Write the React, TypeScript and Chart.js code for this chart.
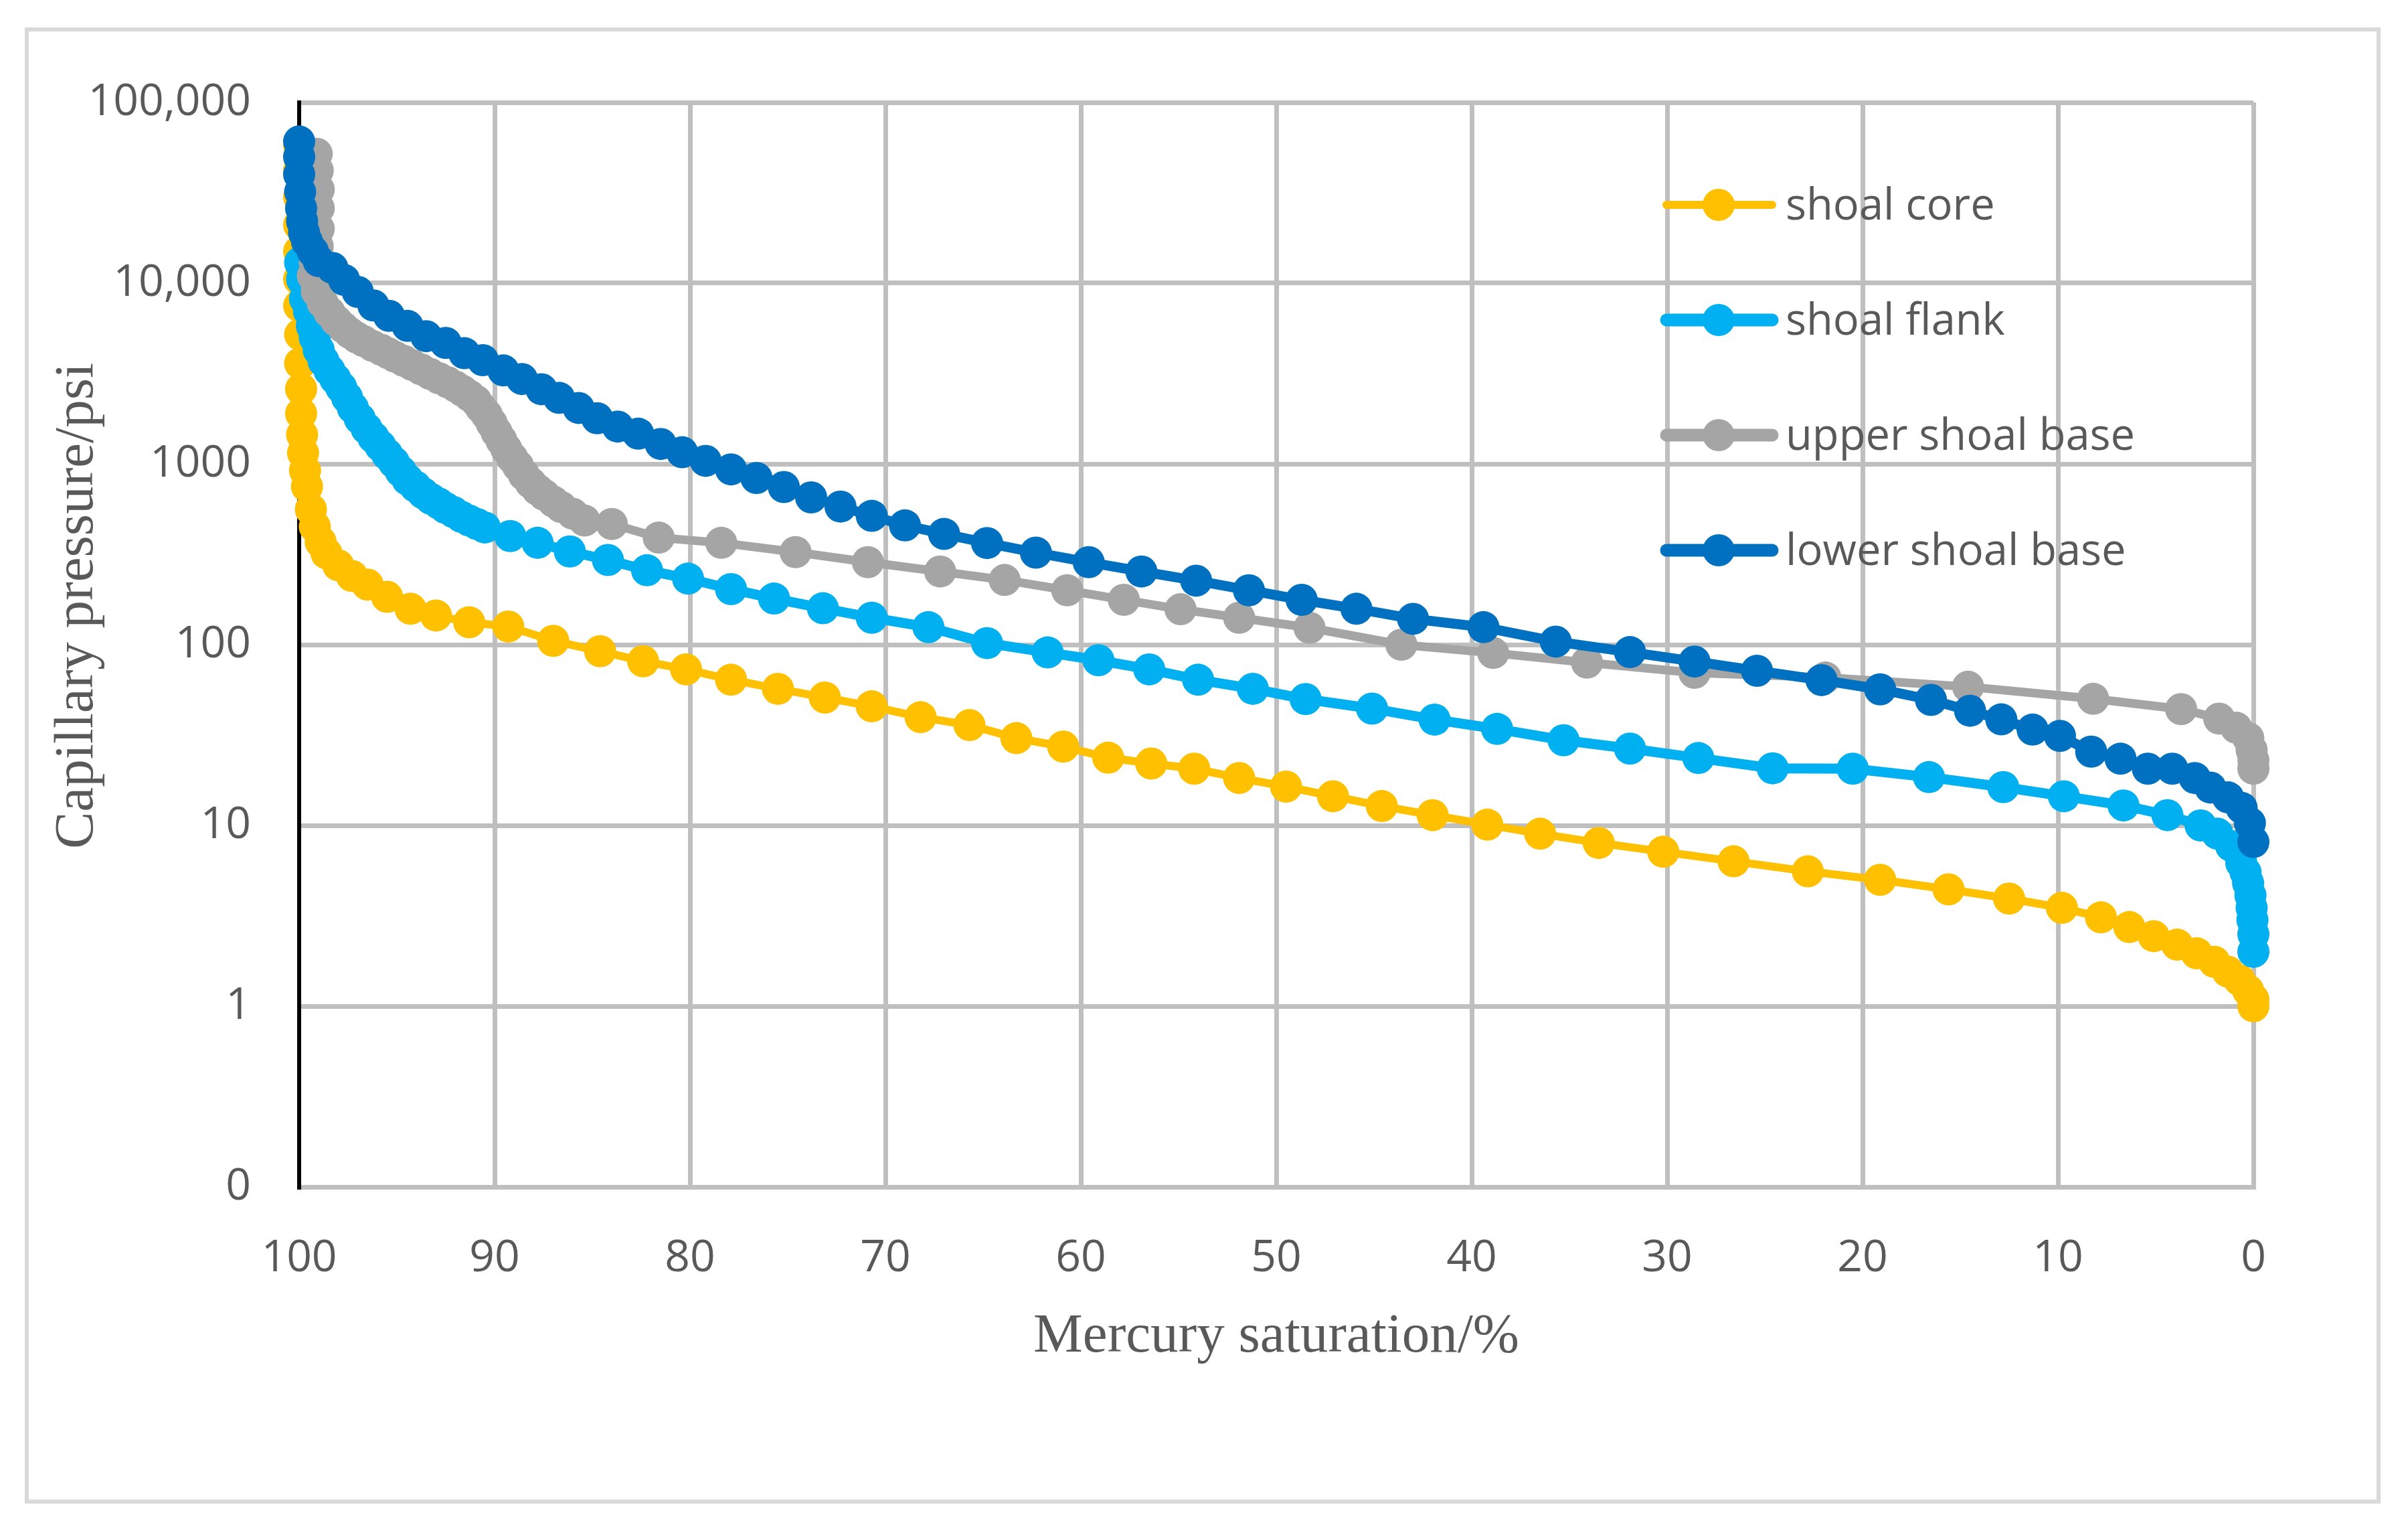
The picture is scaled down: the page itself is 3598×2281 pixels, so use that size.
import React, { useEffect, useRef } from 'react';
import Chart from 'chart.js/auto';

const seriesNames = ['shoal core', 'shoal flank', 'upper shoal base', 'lower shoal base'];
const seriesColors = ['#FFC000', '#00B0F0', '#A5A5A5', '#0070C0'];

// shoal core
const shoalCoreSat = [
    100, 100, 100, 100, 100, 100, 100, 99.95, 99.95, 99.9, 99.9, 99.85, 99.8, 99.7, 99.6, 99.4, 99.2, 98.9, 98.6,
    98.0, 97.3, 96.5, 95.5, 94.3, 93.0, 91.3, 89.3, 87.0, 84.6, 82.4, 80.2, 77.9, 75.5, 73.1, 70.7, 68.2, 65.7,
    63.3, 60.9, 58.6, 56.4, 54.2, 51.9, 49.5, 47.1, 44.6, 42.0, 39.2, 36.5, 33.5, 30.2, 26.6, 22.8, 19.1, 15.6,
    12.5, 9.8, 7.8, 6.35, 5.1, 3.9, 2.9, 2.0, 1.3, 0.7, 0.27, 0, 0,
];
const shoalCorePc = [
    58000, 42000, 30000, 21000, 15000, 10500, 7500, 5200, 3600, 2600, 1900, 1450, 1150, 920, 750, 560, 450, 370, 320,
    275, 240, 215, 184, 158, 145, 133, 126, 105, 92, 81, 73, 64, 57, 51, 45.6, 39.7, 35.9,
    30.4, 27.3, 23.7, 22.0, 20.6, 18.3, 16.4, 14.5, 12.8, 11.4, 10.1, 9.0, 8.0, 7.15, 6.33, 5.57, 5.0, 4.43,
    3.94, 3.5, 3.1, 2.74, 2.44, 2.19, 1.96, 1.76, 1.55, 1.39, 1.22, 1.09, 1.0,
];

// shoal flank
const shoalFlankSat = [
    99.95, 99.85, 99.7, 99.5, 99.35, 99.2, 99.0, 98.75, 98.45, 98.15, 97.85, 97.55, 97.25, 96.9, 96.55, 96.2, 95.85,
    95.5, 95.15, 94.8, 94.45, 94.05, 93.65, 93.25, 92.85, 92.5, 92.1, 91.7, 91.3, 90.9, 90.5, 89.2, 87.8, 86.15,
    84.2, 82.2, 80.1, 77.9, 75.7, 73.2, 70.7, 67.8, 64.8, 61.7, 59.1, 56.5, 54.0, 51.2, 48.5, 45.1, 41.9, 38.7,
    35.3, 31.9, 28.4, 24.6, 20.5, 16.6, 12.8, 9.7, 6.65, 4.4, 2.7, 1.84, 1.14, 0.62, 0.4, 0.27, 0.15, 0.09, 0.05,
    0, 0,
];
const shoalFlankPc = [
    13000, 10500, 8200, 7000, 5800, 5000, 4270, 3700, 3290, 2950, 2650, 2330, 2040, 1780, 1570, 1400, 1260,
    1130, 1020, 910, 818, 750, 688, 640, 604, 570, 541, 510, 486, 465, 445, 399, 366, 328,
    294, 258, 232, 203, 180, 159, 141, 125, 102, 90.6, 82, 73, 64, 57, 50, 44.3, 38.5, 34.2,
    29.6, 26.6, 23.6, 20.7, 20.6, 18.5, 16.3, 14.5, 12.9, 11.4, 10.0, 9.0, 7.7, 6.2, 5.5, 4.8, 4.1, 3.5, 3.0,
    2.5, 2.0,
];

// upper shoal base
const upperBaseSat = [
    99.1, 99.05, 99.0, 99.0, 99.0, 99.05, 99.2, 99.3, 99.1, 98.8, 98.45, 98.1, 97.75, 97.4, 97.05, 96.7, 96.25,
    95.8, 95.45, 95.1, 94.65, 94.2, 93.75, 93.3, 92.85, 92.4, 92.0, 91.65, 91.3, 90.95, 90.7, 90.4, 90.15, 89.9,
    89.65, 89.4, 89.1, 88.8, 88.5, 88.15, 87.8, 87.45, 87.0, 86.6, 86.0, 85.4, 84.0, 81.6, 78.4, 74.6, 70.9,
    67.2, 63.9, 60.7, 57.8, 54.9, 51.9, 48.3, 43.6, 38.9, 34.1, 28.6, 21.9, 14.6, 8.2, 3.7, 1.75, 0.88, 0.26,
    0.09, 0, 0,
];
const upperBasePc = [
    52000, 42000, 33000, 26000, 20000, 16000, 13000, 11000, 9000, 7800, 6900, 6200, 5700, 5300, 5000, 4780, 4500,
    4280, 4100, 3920, 3720, 3520, 3330, 3150, 2980, 2830, 2680, 2540, 2390, 2230, 2050, 1870, 1680, 1500,
    1350, 1210, 1080, 975, 870, 785, 720, 673, 620, 578, 530, 486, 465, 391, 366, 325, 286,
    254, 228, 200, 177, 157, 141, 124, 100, 90, 79.6, 69.9, 65.8, 58.5, 50.2, 44.0, 39.0, 34.7, 30.4,
    26.1, 22.9, 20.6,
];

// lower shoal base
const lowerBaseSat = [
    100, 100, 100, 99.95, 99.9, 99.85, 99.75, 99.6, 99.3, 99.0, 98.3, 97.7, 97.0, 96.2, 95.4, 94.45, 93.5, 92.5,
    91.55, 90.6, 89.55, 88.6, 87.6, 86.7, 85.7, 84.75, 83.7, 82.65, 81.5, 80.4, 79.2, 77.9, 76.6, 75.2, 73.8,
    72.3, 70.7, 69.0, 67.0, 64.8, 62.3, 59.6, 56.9, 54.1, 51.4, 48.7, 45.9, 43.0, 39.4, 35.7, 31.9, 28.6, 25.4,
    22.1, 19.1, 16.5, 14.5, 12.9, 11.3, 9.9, 8.3, 6.8, 5.4, 4.15, 3.0, 2.2, 1.3, 0.6, 0.18, 0,
];
const lowerBasePc = [
    60800, 50000, 40000, 32000, 26000, 22000, 19000, 17000, 15000, 13250, 12150, 10430, 8950, 7530, 6600, 5800, 5090, 4670,
    4100, 3750, 3290, 2950, 2590, 2320, 2040, 1790, 1610, 1470, 1290, 1160, 1040, 933, 836, 745, 653,
    581, 516, 457, 410, 365, 323, 286, 254, 226, 200, 177, 158, 139, 125, 104, 91, 80.7, 71.7,
    63.7, 56.6, 49.5, 43.1, 38.6, 33.9, 31.3, 25.6, 23.4, 20.6, 20.6, 18.3, 16.2, 14.3, 12.5, 10.3, 8.1,
];

const xTickValues = [0, 10, 20, 30, 40, 50, 60, 70, 80, 90, 100];
const yTickValues = [0.1, 1, 10, 100, 1000, 10000, 100000];
const yTickLabels = ['0', '1', '10', '100', '1000', '10,000', '100,000'];
const xTitle = 'Mercury saturation/%';
const yTitle = 'Capillary pressure/psi';

const seriesSat = [shoalCoreSat, shoalFlankSat, upperBaseSat, lowerBaseSat];
const seriesPc = [shoalCorePc, shoalFlankPc, upperBasePc, lowerBasePc];
const lineWidths = [12, 15, 13, 15];
const legendLineWidths = [12, 19, 19, 19];

const W = 3598;
const H = 2281;
const TEXT = '#595959';
const GRID = '#BFBFBF';

// y title + legend drawn on top of the plot
const overlayPlugin = {
    id: 'overlay',
    afterDraw(chart: Chart) {
        const ctx = chart.ctx;
        ctx.save();
        ctx.fillStyle = TEXT;
        ctx.font = '83px "Liberation Serif"';
        ctx.textAlign = 'center';
        ctx.textBaseline = 'alphabetic';
        ctx.translate(138, 905);
        ctx.rotate(-Math.PI / 2);
        ctx.fillText(yTitle, 0, 0);
        ctx.restore();

        const rows = [306, 478, 650, 822];
        ctx.save();
        seriesNames.forEach((name, i) => {
            const y = rows[i];
            ctx.strokeStyle = seriesColors[i];
            ctx.lineWidth = legendLineWidths[i];
            ctx.lineCap = 'round';
            ctx.beginPath();
            ctx.moveTo(2490, y);
            ctx.lineTo(2648, y);
            ctx.stroke();
            ctx.fillStyle = seriesColors[i];
            ctx.beginPath();
            ctx.arc(2568, y, 24, 0, Math.PI * 2);
            ctx.fill();
            ctx.fillStyle = TEXT;
            ctx.font = '65px "Open Sans"';
            ctx.textAlign = 'left';
            ctx.textBaseline = 'alphabetic';
            ctx.fillText(name, 2668, y + 22);
        });
        ctx.restore();
    },
};

const CapillaryChart: React.FC = () => {
    const canvasRef = useRef<HTMLCanvasElement | null>(null);

    useEffect(() => {
        if (!canvasRef.current) return;
        const ctx = canvasRef.current.getContext('2d');
        if (!ctx) return;

        const datasets = seriesNames.map((name, i) => ({
            label: name,
            data: seriesSat[i].map((x, j) => ({ x, y: seriesPc[i][j] })),
            borderColor: seriesColors[i],
            backgroundColor: seriesColors[i],
            pointBackgroundColor: seriesColors[i],
            pointBorderWidth: 0,
            pointRadius: 24,
            pointHoverRadius: 24,
            borderWidth: lineWidths[i],
            showLine: true,
            tension: 0,
            clip: false as const,
            order: 4 - i,
        }));

        const chart = new Chart(ctx, {
            type: 'scatter',
            data: { datasets },
            options: {
                responsive: false,
                animation: false,
                events: [],
                layout: { padding: { left: 0, top: 153, right: 231, bottom: 0 } },
                plugins: {
                    legend: { display: false },
                    tooltip: { enabled: false },
                },
                scales: {
                    x: {
                        type: 'linear',
                        reverse: true,
                        min: 0,
                        max: 100,
                        afterBuildTicks: (s: any) => {
                            s.ticks = xTickValues.map(v => ({ value: v }));
                        },
                        afterFit: (s: any) => {
                            s.height = H - 1773;
                        },
                        grid: {
                            color: (c: any) => (c.tick && c.tick.value === 100 ? 'rgba(0,0,0,0)' : GRID),
                            lineWidth: 7,
                            drawTicks: false,
                        },
                        border: { color: GRID, width: 7 },
                        ticks: {
                            font: { family: '"Open Sans"', size: 66 },
                            color: TEXT,
                            padding: 68,
                            maxRotation: 0,
                            autoSkip: false,
                        },
                        title: {
                            display: true,
                            text: xTitle,
                            font: { family: '"Liberation Serif"', size: 83, lineHeight: 1.2 },
                            color: TEXT,
                            padding: { top: 0, bottom: 234 },
                        },
                    },
                    y: {
                        type: 'logarithmic',
                        min: 0.1,
                        max: 100000,
                        afterBuildTicks: (s: any) => {
                            s.ticks = yTickValues.map(v => ({ value: v }));
                        },
                        afterFit: (s: any) => {
                            s.width = 447;
                        },
                        grid: {
                            color: GRID,
                            lineWidth: 7,
                            drawTicks: false,
                        },
                        border: { color: '#000000', width: 6 },
                        ticks: {
                            font: { family: '"Open Sans"', size: 66 },
                            color: TEXT,
                            padding: 72,
                            autoSkip: false,
                            callback: (v: any) => {
                                const k = yTickValues.indexOf(Number(v));
                                return k >= 0 ? yTickLabels[k] : '';
                            },
                        },
                    },
                },
            },
            plugins: [overlayPlugin],
        });

        return () => {
            chart.destroy();
        };
    }, []);

    return (
        <div style={{ position: 'absolute', left: 0, top: 0, width: W, height: H, background: '#fff' }}>
            <canvas ref={canvasRef} width={W} height={H} style={{ position: 'absolute', left: 0, top: 0, width: W, height: H }} />
            <div
                style={{
                    position: 'absolute',
                    left: 37,
                    top: 41,
                    width: 3557 - 37,
                    height: 2246 - 41,
                    border: '6px solid #D9D9D9',
                    boxSizing: 'border-box',
                    pointerEvents: 'none',
                }}
            />
        </div>
    );
};

export default function App() {
    return <CapillaryChart />;
}
